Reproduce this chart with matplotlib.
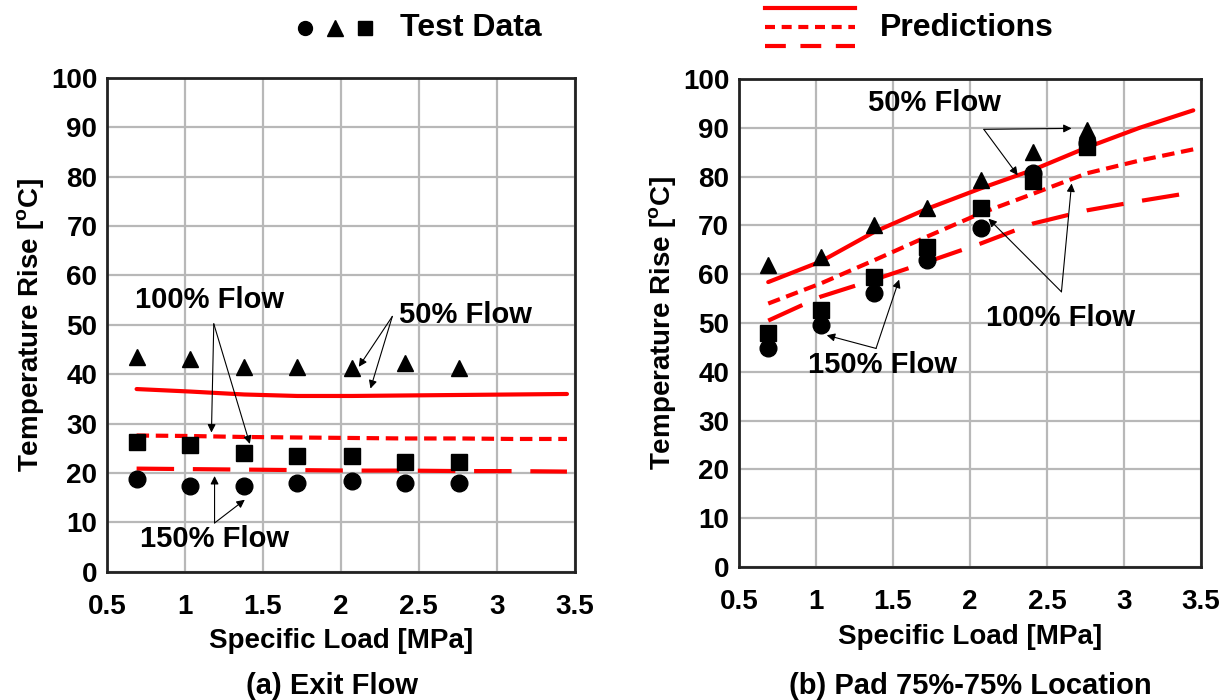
import matplotlib
matplotlib.use('Agg')
import matplotlib.pyplot as plt
from matplotlib.lines import Line2D

plt.rcParams['font.family'] = ['Liberation Sans', 'DejaVu Sans']
plt.rcParams['font.weight'] = 'bold'
plt.rcParams['mathtext.fontset'] = 'custom'
plt.rcParams['mathtext.rm'] = 'Liberation Sans:bold'
plt.rcParams['mathtext.bf'] = 'Liberation Sans:bold'

# specific load of the test points [MPa]
load = [0.69, 1.03, 1.38, 1.72, 2.07, 2.41, 2.76]
# load for the prediction curves
pred_load = [0.69, 1.03, 1.38, 1.72, 2.07, 2.41, 2.76, 3.10, 3.45]

# (a) exit flow
exit_50 = [43.5, 43.0, 41.5, 41.5, 41.2, 42.2, 41.2]
exit_100 = [26.3, 25.7, 24.1, 23.4, 23.4, 22.3, 22.2]
exit_150 = [18.7, 17.3, 17.3, 18.0, 18.4, 18.0, 18.0]
exit_pred_50 = [37.0, 36.5, 35.9, 35.6, 35.6, 35.7, 35.8, 35.9, 36.0]
exit_pred_100 = [27.6, 27.5, 27.3, 27.2, 27.1, 27.0, 27.0, 26.9, 26.9]
exit_pred_150 = [20.9, 20.8, 20.7, 20.6, 20.5, 20.5, 20.4, 20.4, 20.3]

# (b) pad 75%-75% location
pad_50 = [61.9, 63.6, 70.1, 73.5, 79.3, 85.1, 89.5]
pad_100 = [47.9, 52.6, 59.5, 65.6, 73.5, 79.2, 86.0]
pad_150 = [44.8, 49.6, 56.1, 62.9, 69.4, 80.8, 87.0]
pad_pred_50 = [58.4, 62.6, 68.7, 73.4, 77.6, 81.4, 86.0, 90.0, 93.6]
pad_pred_100 = [54.0, 58.1, 62.9, 67.7, 72.5, 76.5, 80.7, 83.3, 85.6]
pad_pred_150 = [50.5, 55.4, 58.9, 62.5, 66.3, 70.4, 73.1, 75.0, 76.8]

RED = '#ff0000'
SHORT = (3, 1.6)
LONG = (9, 4.5)

fig = plt.figure(figsize=(12.31, 7), dpi=100)
ax1 = fig.add_axes([0.0869, 0.183, 0.380, 0.706])
ax2 = fig.add_axes([0.6003, 0.190, 0.3753, 0.697])


def draw(ax, d50, d100, d150, p50, p100, p150):
    ax.plot(pred_load, p50, color=RED, lw=3, solid_capstyle='round', zorder=3)
    ax.plot(pred_load, p100, color=RED, lw=3, dashes=SHORT, zorder=3)
    ax.plot(pred_load, p150, color=RED, lw=3, dashes=LONG, zorder=3)
    ax.plot(load, d150, 'o', color='black', ms=12, zorder=4)
    ax.plot(load, d100, 's', color='black', ms=11.5, zorder=4)
    ax.plot(load, d50, '^', color='black', ms=12, zorder=4)
    ax.set_xlim(0.5, 3.5)
    ax.set_ylim(0, 100)
    ax.set_xticks([0.5, 1, 1.5, 2, 2.5, 3, 3.5])
    ax.set_xticklabels(['0.5', '1', '1.5', '2', '2.5', '3', '3.5'])
    ax.set_yticks(range(0, 101, 10))
    ax.grid(True, color='#b8b8b8', lw=1.6)
    ax.set_axisbelow(True)
    ax.tick_params(length=0, labelsize=20)
    ax.tick_params(axis='x', pad=16)
    ax.tick_params(axis='y', pad=7)
    for lab in ax.get_xticklabels() + ax.get_yticklabels():
        lab.set_fontweight('bold')
    for s in ax.spines.values():
        s.set_linewidth(2)
        s.set_color('#222222')
    ax.set_xlabel('Specific Load [MPa]', fontsize=20, fontweight='bold', labelpad=6)
    ax.set_ylabel(r'Temperature Rise [$^{\mathrm{o}}$C]', fontsize=20,
                  fontweight='bold', labelpad=3)


def note(ax, text, tx, ty, start, ends):
    ax.text(tx, ty, text, fontsize=21, fontweight='bold', ha='center', va='center', zorder=6)
    for e in ends:
        ax.annotate('', xy=e, xytext=start,
                    arrowprops=dict(arrowstyle='-|>', color='black', lw=0.8,
                                    mutation_scale=12, shrinkA=0, shrinkB=0),
                    zorder=5)


draw(ax1, exit_50, exit_100, exit_150, exit_pred_50, exit_pred_100, exit_pred_150)
draw(ax2, pad_50, pad_100, pad_150, pad_pred_50, pad_pred_100, pad_pred_150)

note(ax1, '100% Flow', 1.16, 55.0, (1.185, 50.2), [(1.17, 28.2), (1.416, 25.9)])
note(ax1, '50% Flow', 2.80, 52.0, (2.33, 51.7), [(2.115, 41.5), (2.19, 37.1)])
note(ax1, '150% Flow', 1.19, 6.6, (1.19, 9.9), [(1.19, 19.4), (1.384, 14.6)])

note(ax2, '50% Flow', 1.77, 95.0, (2.09, 89.7), [(2.66, 89.9), (2.31, 80.3)])
note(ax2, '100% Flow', 2.59, 51.0, (2.594, 56.4), [(2.66, 78.6), (2.12, 71.4)])
note(ax2, '150% Flow', 1.43, 41.4, (1.39, 44.8), [(1.07, 47.5), (1.54, 58.9)])

fig.text(0.270, 1 - 686 / 700, '(a) Exit Flow', fontsize=21, fontweight='bold',
         ha='center', va='center')
fig.text(0.788, 1 - 686 / 700, '(b) Pad 75%-75% Location', fontsize=21, fontweight='bold',
         ha='center', va='center')

# top legend
W, H = 1231.0, 700.0
for mx, m, size in [(305, 'o', 10), (335, '^', 11), (365, 's', 9.5)]:
    fig.add_artist(Line2D([mx / W], [1 - 28 / H], marker=m, color='black', ms=size,
                          linestyle='none'))
fig.text(400 / W, 1 - 28 / H, 'Test Data', fontsize=23, fontweight='bold', va='center')
fig.add_artist(Line2D([765 / W, 855 / W], [1 - 8 / H] * 2, color=RED, lw=3))
fig.add_artist(Line2D([765 / W, 855 / W], [1 - 27 / H] * 2, color=RED, lw=3, dashes=(2.4, 1.6)))
fig.add_artist(Line2D([765 / W, 855 / W], [1 - 46 / H] * 2, color=RED, lw=3, dashes=(5, 3.5)))
fig.text(880 / W, 1 - 28 / H, 'Predictions', fontsize=23, fontweight='bold', va='center')

fig.savefig('out.png', dpi=100)
